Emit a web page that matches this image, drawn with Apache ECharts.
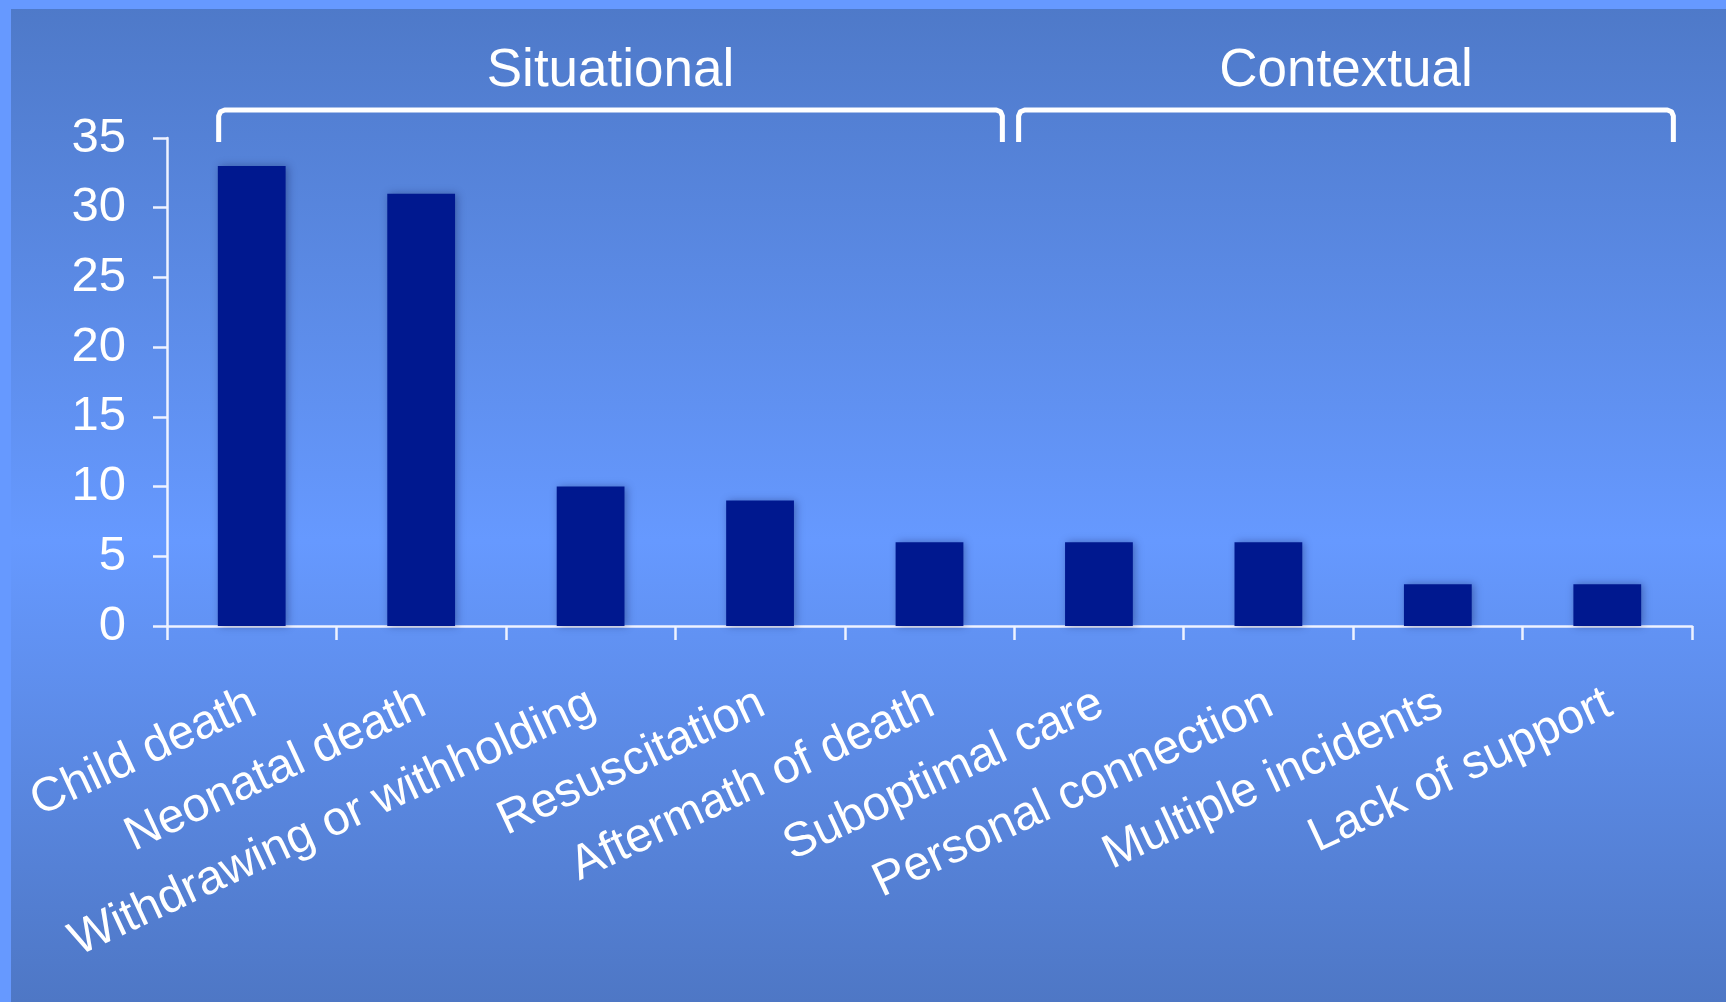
<!DOCTYPE html>
<html>
<head>
<meta charset="utf-8">
<script src="https://cdn.jsdelivr.net/npm/echarts@6/dist/echarts.min.js"></script>
<style>
  html, body { margin: 0; padding: 0; background: #6699FF; }
  #chart { width: 1726px; height: 1002px; }
</style>
</head>
<body>
<div id="chart"></div>
<script>
const categories = [
  'Child death', 'Neonatal death', 'Withdrawing or withholding', 'Resuscitation',
  'Aftermath of death', 'Suboptimal care', 'Personal connection',
  'Multiple incidents', 'Lack of support'
];
const values = [33, 31, 10, 9, 6, 6, 6, 3, 3];
const yMin = 0, yMax = 35, yStep = 5;
const groupNames = ['Situational', 'Contextual'];
const groupFirst = [0, 5];
const groupLast = [4, 8];

const FONT = '"Liberation Sans", Arial, Helvetica, sans-serif';
const AXIS_COLOR = '#EEF2FF';
const GRID = { left: 167, right: 34, top: 138, bottom: 376 };

const chart = echarts.init(document.getElementById('chart'), null, { renderer: 'canvas' });

const option = {
  animation: false,
  backgroundColor: {
    type: 'linear', x: 0, y: 0, x2: 0, y2: 1,
    colorStops: [
      { offset: 0.0, color: '#4E79C8' },
      { offset: 0.54, color: '#6699FF' },
      { offset: 1.0, color: '#4E77C5' }
    ]
  },
  grid: { left: GRID.left, right: GRID.right, top: GRID.top, bottom: GRID.bottom, containLabel: false },
  xAxis: {
    type: 'category',
    data: categories,
    boundaryGap: true,
    axisLine: { show: true, lineStyle: { color: AXIS_COLOR, width: 2.5 } },
    axisTick: { show: true, length: 14, inside: false, alignWithLabel: false, lineStyle: { color: AXIS_COLOR, width: 2.5 } },
    axisLabel: {
      interval: 0,
      rotate: 25,
      margin: 50,
      verticalAlign: 'top',
      padding: [0, 9, 0, 0],
      color: '#FFFFFF',
      fontSize: 48,
      fontFamily: FONT
    },
    splitLine: { show: false }
  },
  yAxis: {
    type: 'value',
    min: yMin, max: yMax, interval: yStep,
    axisLine: { show: true, lineStyle: { color: AXIS_COLOR, width: 2.5 } },
    axisTick: { show: true, length: 14, lineStyle: { color: AXIS_COLOR, width: 2.5 } },
    axisLabel: { margin: 41, color: '#FFFFFF', fontSize: 49, fontFamily: FONT },
    splitLine: { show: false }
  },
  series: [{
    type: 'bar',
    data: values,
    barWidth: '40%',
    itemStyle: {
      color: '#00188F',
      shadowBlur: 8,
      shadowColor: 'rgba(0, 10, 60, 0.35)',
      shadowOffsetX: 2,
      shadowOffsetY: 0
    }
  }]
};
chart.setOption(option);

// brackets and group titles positioned from the category axis
const c0 = chart.convertToPixel({ xAxisIndex: 0 }, categories[0]);
const c1 = chart.convertToPixel({ xAxisIndex: 0 }, categories[1]);
const band = c1 - c0;
const startOff = [-0.195, -0.474];
const endOff = [0.43, 0.39];
const yTop = GRID.top - 28;
const yLeg = GRID.top + 4;
const r = 6;
const graphics = [
  { type: 'rect', silent: true, z: 100, shape: { x: 0, y: 0, width: 1726, height: 9 }, style: { fill: '#6699FF' } },
  { type: 'rect', silent: true, z: 100, shape: { x: 0, y: 0, width: 11, height: 1002 }, style: { fill: '#6699FF' } }
];
for (let g = 0; g < groupNames.length; g++) {
  const xa = chart.convertToPixel({ xAxisIndex: 0 }, categories[groupFirst[g]]) + startOff[g] * band;
  const xb = chart.convertToPixel({ xAxisIndex: 0 }, categories[groupLast[g]]) + endOff[g] * band;
  graphics.push({
    type: 'polyline', silent: true, z: 50,
    shape: { points: [
      [xa, yLeg], [xa, yTop + r], [xa + r * 0.3, yTop + r * 0.3], [xa + r, yTop],
      [xb - r, yTop], [xb - r * 0.3, yTop + r * 0.3], [xb, yTop + r], [xb, yLeg]
    ] },
    style: { stroke: '#FFFFFF', lineWidth: 5, fill: null, lineJoin: 'round', lineCap: 'butt' }
  });
  graphics.push({
    type: 'text', silent: true, z: 50,
    x: (xa + xb) / 2, y: 71,
    style: {
      text: groupNames[g], fill: '#FFFFFF', font: '53px ' + FONT,
      textAlign: 'center', textVerticalAlign: 'middle'
    }
  });
}
chart.setOption({ graphic: { elements: graphics } });
</script>
</body>
</html>
